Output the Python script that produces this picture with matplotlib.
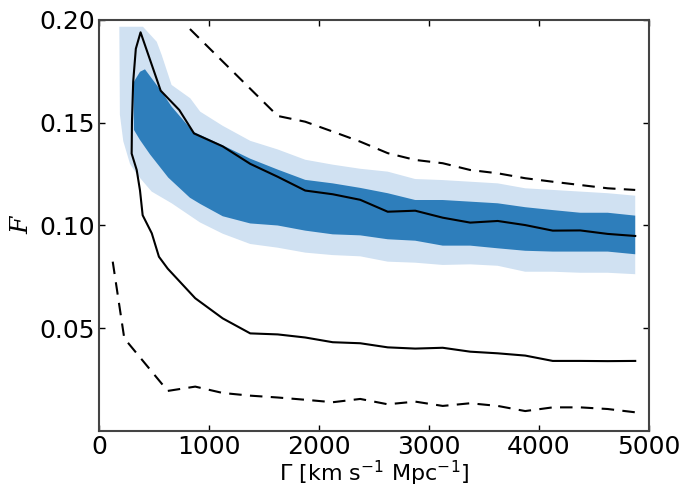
import matplotlib
matplotlib.use("Agg")
import matplotlib.pyplot as plt
import numpy as np

# ---- data ----
# light (outer) band
light_up_x = [185, 400, 525, 570, 660, 830, 920, 1125, 1375, 1625, 1875, 2125, 2375,
              2625, 2875, 3125, 3375, 3625, 3875, 4125, 4375, 4625, 4875]
light_up_y = [0.1967, 0.1967, 0.1894, 0.1830, 0.1684, 0.1619, 0.1554, 0.1485, 0.1412,
              0.1370, 0.1320, 0.1296, 0.1276, 0.1262, 0.1226, 0.1221, 0.1213, 0.1205,
              0.1181, 0.1173, 0.1165, 0.1157, 0.1145]
light_lo_x = [190, 221, 282, 343, 479, 661, 918, 1125, 1375, 1625, 1875, 2125, 2375,
              2625, 2875, 3125, 3375, 3625, 3875, 4125, 4375, 4625, 4875]
light_lo_y = [0.1540, 0.1410, 0.1300, 0.1250, 0.1165, 0.1108, 0.1015, 0.0960, 0.0910,
              0.0892, 0.0868, 0.0856, 0.0850, 0.0824, 0.0819, 0.0808, 0.0811, 0.0804,
              0.0775, 0.0775, 0.0770, 0.0770, 0.0763]

# dark (inner) band
dark_up_x = [312, 327, 373, 418, 570, 661, 857, 1125, 1375, 1625, 1875, 2125, 2375,
             2625, 2875, 3125, 3375, 3625, 3875, 4125, 4375, 4625, 4875]
dark_up_y = [0.1692, 0.1708, 0.1748, 0.1760, 0.1651, 0.1578, 0.1456, 0.1390, 0.1325,
             0.1272, 0.1222, 0.1205, 0.1183, 0.1157, 0.1124, 0.1124, 0.1116, 0.1108,
             0.1089, 0.1075, 0.1062, 0.1062, 0.1048]
dark_lo_x = [318, 373, 464, 630, 827, 920, 1125, 1375, 1625, 1875, 2125, 2375,
             2625, 2875, 3125, 3375, 3625, 3875, 4125, 4375, 4625, 4875]
dark_lo_y = [0.1465, 0.1416, 0.1346, 0.1233, 0.1135, 0.1105, 0.1045, 0.1010, 0.1000,
             0.0975, 0.0957, 0.0952, 0.0933, 0.0926, 0.0902, 0.0902, 0.0889, 0.0877,
             0.0873, 0.0873, 0.0873, 0.0860]

# solid contour (lower branch right->left, then up and along upper branch)
solid_x = [4875, 4625, 4375, 4125, 3875, 3625, 3375, 3125, 2875, 2625, 2375, 2125,
           1875, 1625, 1375, 1125, 875, 625, 545, 480, 397, 373, 343, 297, 300, 311,
           335, 378, 561, 730, 864, 1125, 1375, 1625, 1875, 2125, 2375, 2625, 2875,
           3125, 3375, 3625, 3875, 4125, 4375, 4625, 4875]
solid_y = [0.0341, 0.0340, 0.0341, 0.0341, 0.0367, 0.0378, 0.0386, 0.0405, 0.0401,
           0.0407, 0.0427, 0.0432, 0.0455, 0.0470, 0.0475, 0.0548, 0.0646, 0.0790,
           0.0848, 0.0962, 0.1050, 0.1170, 0.1270, 0.1350, 0.1510, 0.1700, 0.1860,
           0.1940, 0.1656, 0.1562, 0.1448, 0.1385, 0.1300, 0.1237, 0.1170, 0.1152,
           0.1125, 0.1067, 0.1072, 0.1038, 0.1014, 0.1022, 0.1002, 0.0975, 0.0976,
           0.0959, 0.0949]

# dashed contour, upper branch
dash_up_x = [827, 1625, 1875, 2125, 2375, 2625, 2875, 3125, 3375, 3625, 3875, 4125,
             4375, 4625, 4875]
dash_up_y = [0.1956, 0.1533, 0.1505, 0.1457, 0.1408, 0.1352, 0.1319, 0.1303, 0.1270,
             0.1254, 0.1230, 0.1213, 0.1197, 0.1181, 0.1173]
# dashed contour, lower branch
dash_lo_x = [125, 230, 625, 875, 1125, 1375, 1625, 1875, 2125, 2375, 2625, 2875, 3125,
             3375, 3625, 3875, 4125, 4375, 4625, 4875]
dash_lo_y = [0.0824, 0.0451, 0.0195, 0.0216, 0.0185, 0.0172, 0.0163, 0.0152, 0.0140,
             0.0156, 0.0130, 0.0143, 0.0122, 0.0135, 0.0122, 0.0097, 0.0115, 0.0115,
             0.0107, 0.0091]

x_ticks = [0, 1000, 2000, 3000, 4000, 5000]
y_ticks = [0.05, 0.10, 0.15, 0.20]
y_tick_labels = ["0.05", "0.10", "0.15", "0.20"]

light_col = "#d0e1f2"
dark_col = "#2e7ebb"

fig = plt.figure(figsize=(7.0, 4.91), dpi=100)
ax = fig.add_axes([0.1414, 0.1222, 0.7857, 0.8371])

ax.fill(light_up_x + light_lo_x[::-1], light_up_y + light_lo_y[::-1],
        color=light_col, lw=0, zorder=1)
ax.fill(dark_up_x + dark_lo_x[::-1], dark_up_y + dark_lo_y[::-1],
        color=dark_col, lw=0, zorder=2)

ax.plot(solid_x, solid_y, color="black", lw=1.5, zorder=3)
ax.plot(dash_up_x, dash_up_y, color="black", lw=1.5, dashes=(6, 4), zorder=3)
ax.plot(dash_lo_x, dash_lo_y, color="black", lw=1.5, dashes=(6, 4), zorder=3)

ax.set_xlim(0, 5000)
ax.set_ylim(0, 0.2)
ax.set_xticks(x_ticks)
ax.set_xticklabels([str(t) for t in x_ticks])
ax.set_yticks(y_ticks)
ax.set_yticklabels(y_tick_labels)

ax.tick_params(direction="in", top=True, right=True, length=4, width=1,
               labelsize=18, colors="black")
ax.tick_params(axis="x", pad=3)
ax.tick_params(axis="y", pad=3)

for s in ax.spines.values():
    s.set_color("#444444")
    s.set_linewidth(1.5)

ax.set_xlabel(r"$\Gamma$ [km s$^{-1}$ Mpc$^{-1}$]", fontsize=16, labelpad=0)
ax.set_ylabel("F", fontsize=18, fontstyle="italic", family="DejaVu Serif", labelpad=4)

fig.savefig("out.png", dpi=100)
